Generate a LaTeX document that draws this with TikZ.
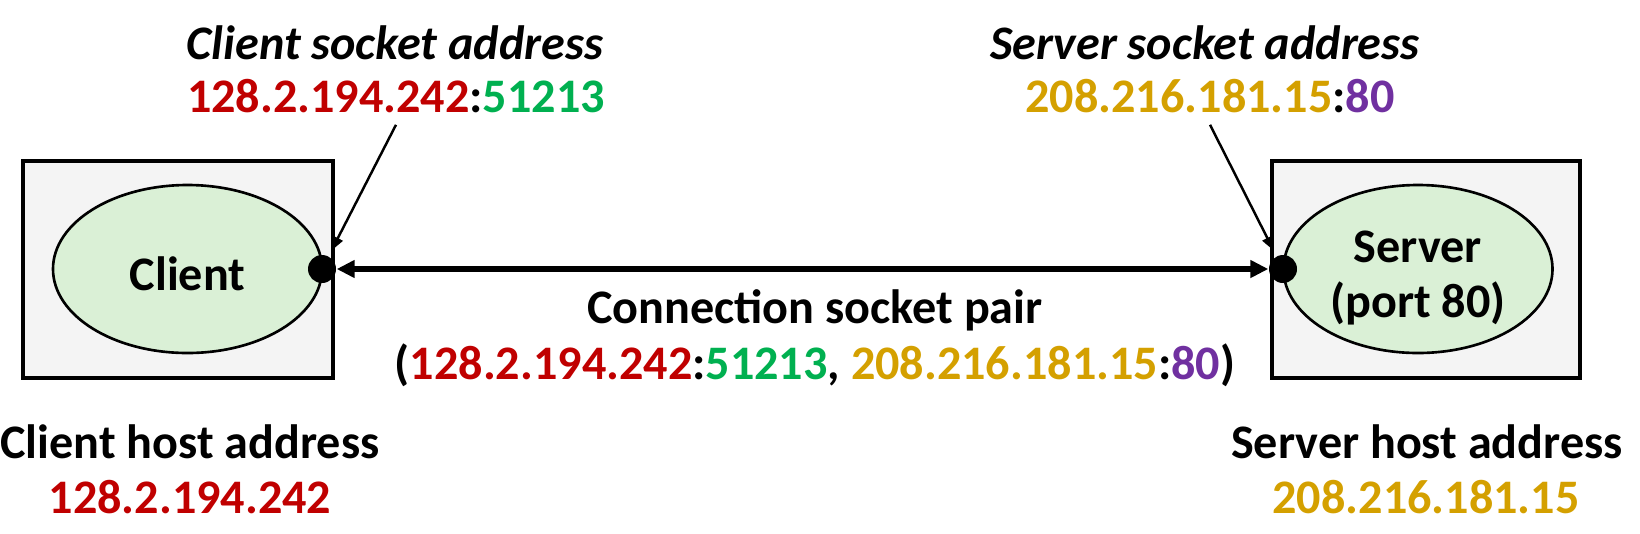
\documentclass[tikz,border=0pt]{standalone}
\usepackage{fontspec}
\setmainfont{Carlito}
\usepackage{tikz}
\usetikzlibrary{shapes,arrows.meta}
\definecolor{ipred}{RGB}{192,0,0}
\definecolor{portgreen}{RGB}{0,176,80}
\definecolor{ipgold}{RGB}{212,160,0}
\definecolor{portpurple}{RGB}{112,48,160}
\definecolor{hostgray}{RGB}{244,244,244}
\definecolor{procgreen}{RGB}{218,240,214}

\begin{document}
\begin{tikzpicture}
	\tikzset{every node/.style={font=\fontsize{13.7pt}{15.6pt}\selectfont\bfseries}}
	\tikzset{host/.style={draw,line width=0.9pt,fill=hostgray,minimum height=2.17cm,inner sep=0pt}}
	\tikzset{proc/.style={ellipse,draw,line width=0.75pt,fill=procgreen,minimum width=2.69cm,minimum height=1.68cm,inner sep=0pt,align=center}}
	\tikzset{sock/.style={circle,fill=black,minimum size=0.28cm,inner sep=0pt}}
	\tikzset{lbl/.style={anchor=base}}
	\tikzset{callout/.style={-{Triangle[length=0.14cm,width=0.11cm]},line width=0.7pt,shorten >=0.06cm}}
	\useasboundingbox (0,0) rectangle (16.40,5.33);
	% hosts and processes
	\node[host,minimum width=3.10cm] (chost) at (1.78,2.635) {};
	\node[host,minimum width=3.08cm] (shost) at (14.26,2.635) {};
	\node[proc,text height=12.4pt] (client) at (1.875,2.64) {Client};
	\node[proc,text height=27.4pt,text depth=0pt] (server) at (14.18,2.64) {Server\\(port 80)};
	\node[sock] (cdot) at (3.22,2.64) {};
	\node[sock] (sdot) at (12.83,2.64) {};
	\draw[{Triangle[length=0.18cm,width=0.17cm]}-{Triangle[length=0.18cm,width=0.17cm]},line width=1.8pt] (cdot) -- (sdot);
	% socket addresses
	\node[lbl] (csocklbl) at (3.95,4.74) {\itshape Client socket address};
	\node[lbl] (csock) at (3.96,4.21) {\textcolor{ipred}{128.2.194.242}:\textcolor{portgreen}{51213}};
	\node[lbl] (ssocklbl) at (12.05,4.74) {\itshape Server socket address};
	\node[lbl] (ssock) at (12.10,4.21) {\textcolor{ipgold}{208.216.181.15}:\textcolor{portpurple}{80}};
	\draw[callout] (csock.south) -- (cdot);
	\draw[callout] (ssock.south) -- (sdot);
	% socket pair
	\node[lbl] (pairlbl) at (8.15,2.10) {Connection socket pair};
	\node[lbl] (pair) at (8.15,1.54) {(\textcolor{ipred}{128.2.194.242}:\textcolor{portgreen}{51213}, \textcolor{ipgold}{208.216.181.15}:\textcolor{portpurple}{80})};
	% host addresses
	\node[lbl] (chostlbl) at (1.90,0.75) {Client host address};
	\node[lbl] (chostip) at (1.90,0.20) {\textcolor{ipred}{128.2.194.242}};
	\node[lbl] (shostlbl) at (14.27,0.75) {Server host address};
	\node[lbl] (shostip) at (14.26,0.20) {\textcolor{ipgold}{208.216.181.15}};
\end{tikzpicture}
\end{document}
